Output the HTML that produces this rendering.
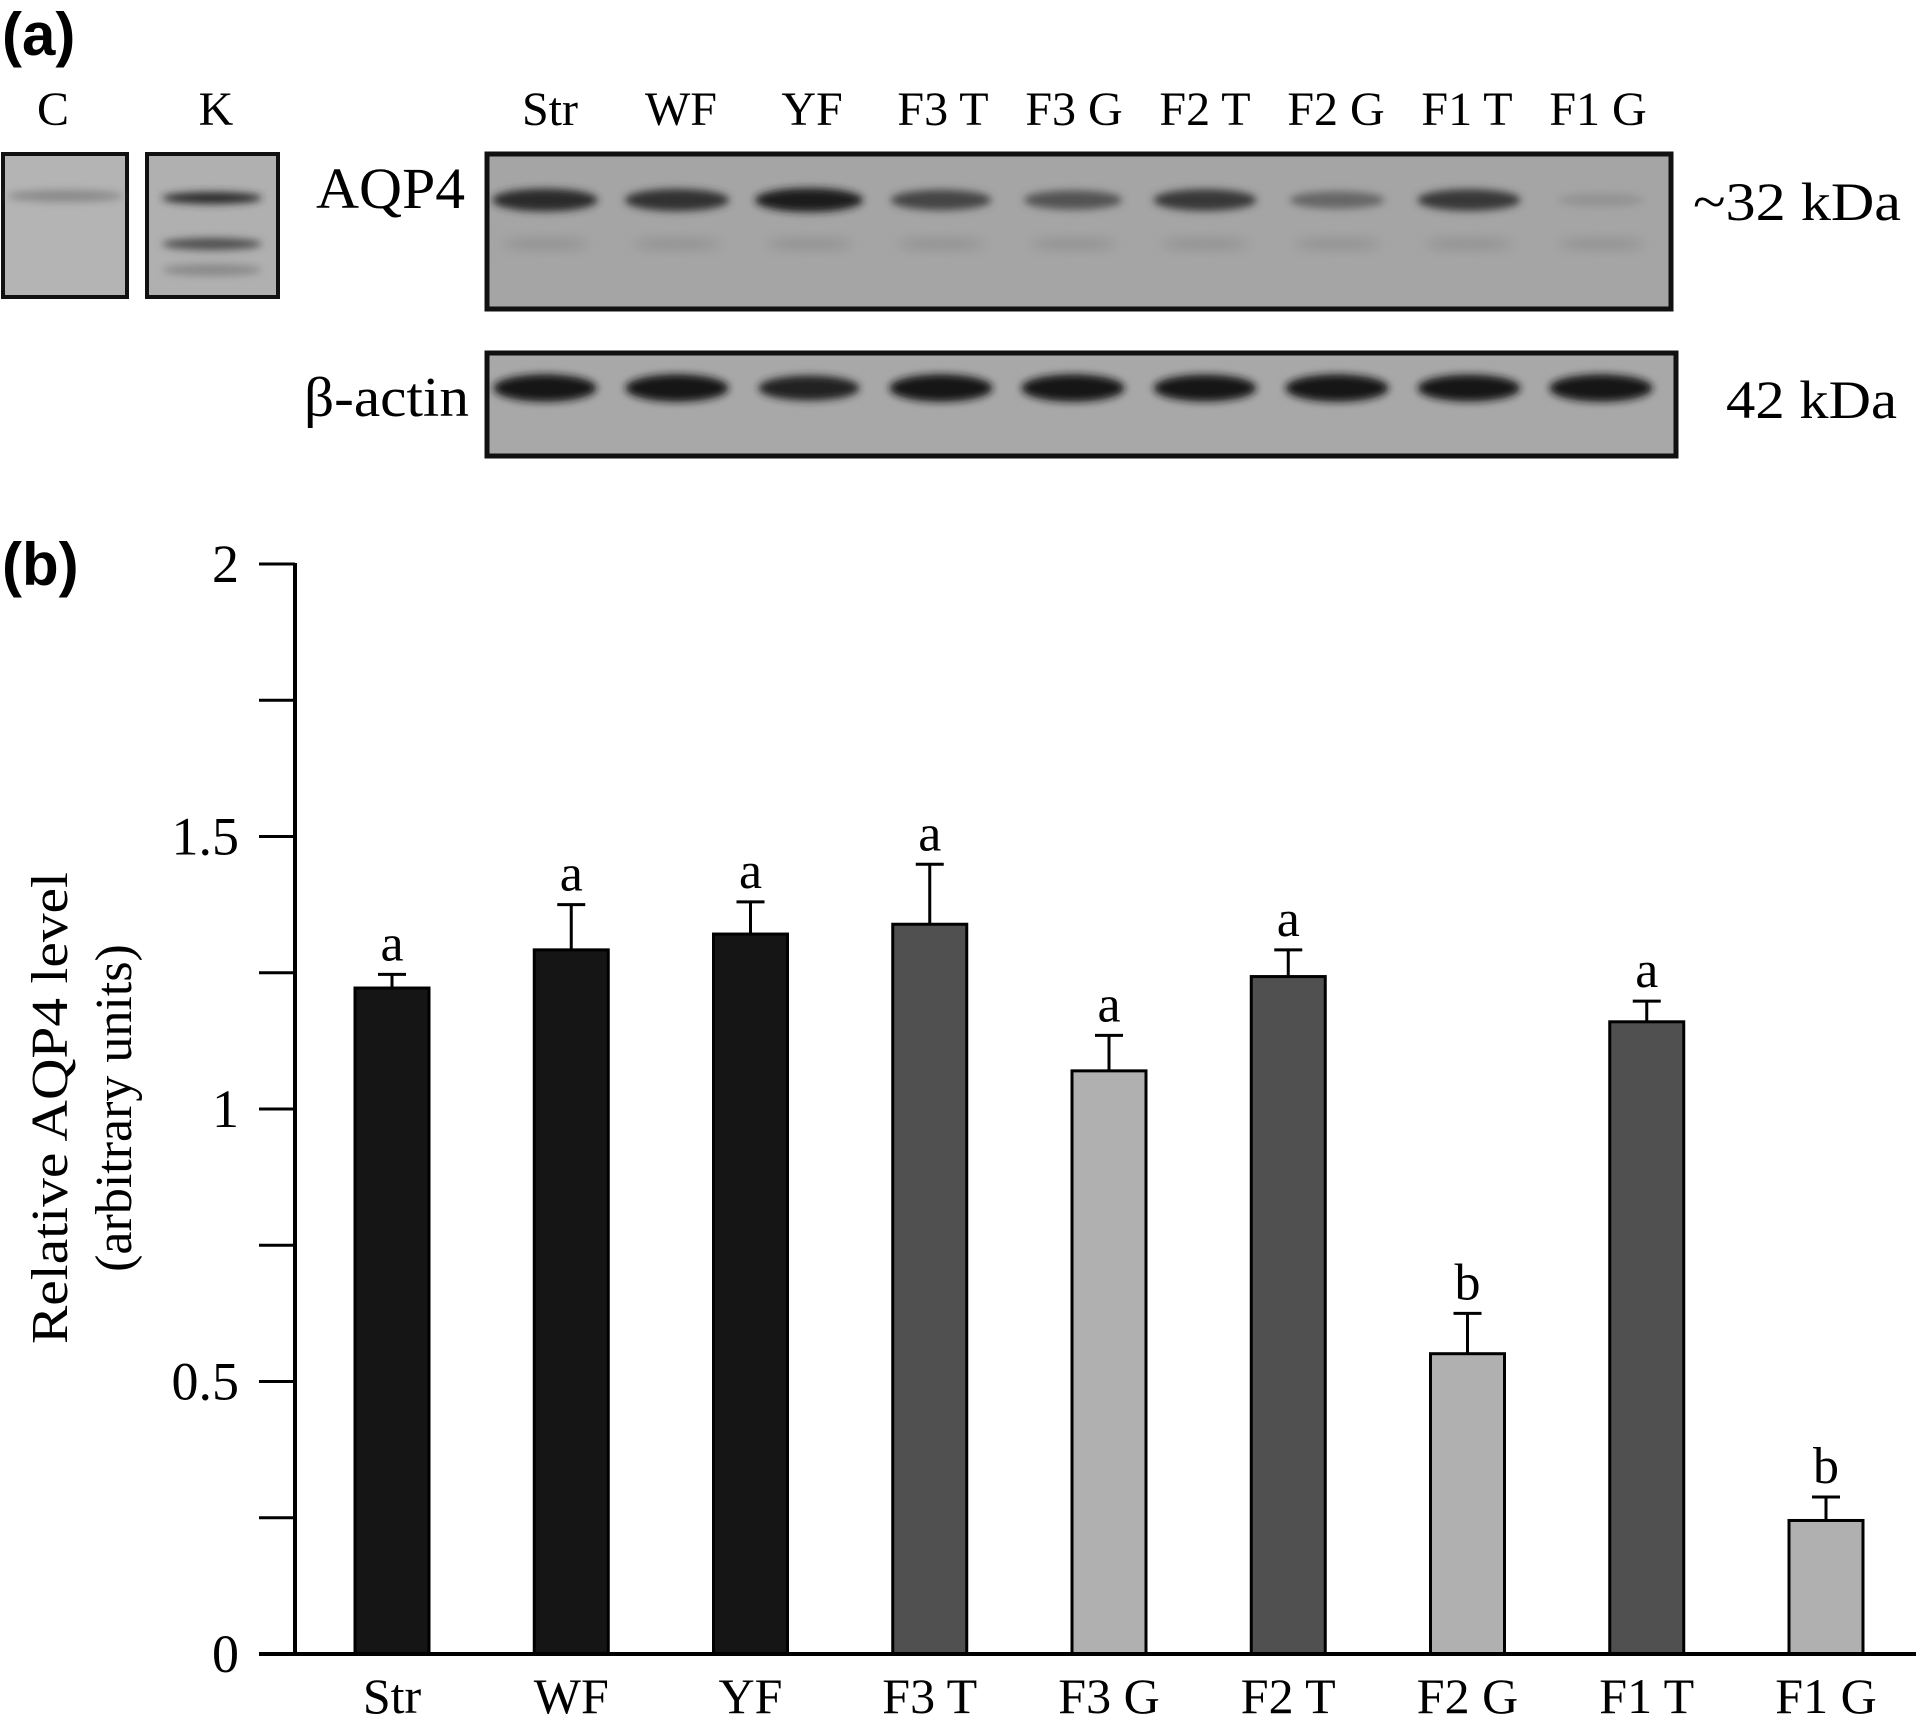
<!DOCTYPE html>
<html><head><meta charset="utf-8"><style>
html,body{margin:0;padding:0;background:#fff;}
svg{display:block;}
text{font-family:"Liberation Serif",serif;fill:#000;}
</style></head><body>
<svg id="fig" width="1919" height="1717" viewBox="0 0 1919 1717" xmlns="http://www.w3.org/2000/svg">
<defs>
<filter id="blur" x="-50%" y="-100%" width="200%" height="300%"><feGaussianBlur stdDeviation="4"/></filter>
<filter id="blur2" x="-50%" y="-100%" width="200%" height="300%"><feGaussianBlur stdDeviation="6"/></filter>
</defs>
<g id="panelA">
<text x="2" y="55" style="font-family:'Liberation Sans',sans-serif;font-weight:bold;font-size:60px">(a)</text>
<text x="53" y="125" font-size="48" text-anchor="middle">C</text>
<text x="216" y="125" font-size="48" text-anchor="middle">K</text>
<rect x="3" y="154" width="124" height="143" fill="#b4b4b4" stroke="#111" stroke-width="4"/>
<rect x="147" y="154" width="131" height="143" fill="#b0b0b0" stroke="#111" stroke-width="4"/>
<rect x="487" y="154" width="1184" height="155" fill="#a5a5a5" stroke="#111" stroke-width="5"/>
<rect x="487" y="353" width="1189" height="103" fill="#a8a8a8" stroke="#111" stroke-width="5"/>
<text x="316" y="208" font-size="58" textLength="149" lengthAdjust="spacingAndGlyphs">AQP4</text>
<text x="1693" y="220" font-size="54" textLength="208" lengthAdjust="spacingAndGlyphs">~32 kDa</text>
<text x="304" y="416" font-size="56" textLength="165" lengthAdjust="spacingAndGlyphs">β-actin</text>
<text x="1726" y="418" font-size="54" textLength="171" lengthAdjust="spacingAndGlyphs">42 kDa</text>
<g id="blotBands"></g>
</g>
<g id="panelB">
<text x="2" y="585" style="font-family:'Liberation Sans',sans-serif;font-weight:bold;font-size:60px">(b)</text>
<text transform="translate(67,1108) rotate(-90)" font-size="52" text-anchor="middle"><tspan x="0" y="0" textLength="472" lengthAdjust="spacingAndGlyphs">Relative AQP4 level</tspan><tspan x="0" y="64">(arbitrary units)</tspan></text>
<g id="chart"></g>
</g>
</svg>
<script>
const lanes = ["Str","WF","YF","F3 T","F3 G","F2 T","F2 G","F1 T","F1 G"];
const aqpBand = [0.9,0.85,1.0,0.7,0.6,0.8,0.45,0.8,0.1];
const actinBand = [0.95,0.95,0.75,0.95,0.95,0.9,0.95,0.9,0.95];
const categories = ["Str","WF","YF","F3 T","F3 G","F2 T","F2 G","F1 T","F1 G"];
const values = [1.222,1.292,1.321,1.339,1.07,1.243,0.551,1.16,0.245];
const errors = [0.025,0.083,0.059,0.11,0.065,0.049,0.074,0.038,0.043];
const groupLetters = ["a","a","a","a","a","a","b","a","b"];
const fillColors = ["#151515","#151515","#151515","#505050","#b0b0b0","#505050","#b0b0b0","#505050","#b0b0b0"];
const yTicks = [0,0.5,1,1.5,2];
const yTickLabels = ["0","0.5","1","1.5","2"];
const yMinor = [0.25,0.75,1.25,1.75];

const NS="http://www.w3.org/2000/svg";
function mk(tag,attrs,parent,txt){const e=document.createElementNS(NS,tag);for(const k in attrs)e.setAttribute(k,attrs[k]);if(txt!==undefined)e.textContent=txt;parent.appendChild(e);return e;}

// blot lanes
const bands=document.getElementById('blotBands');
const laneX=i=>545+i*132;
const labelX=i=>550+i*131;
lanes.forEach((l,i)=>{
  const t=mk('text',{x:labelX(i),y:125,'font-size':48,'text-anchor':'middle'},bands,l);
  
  
  const w=42+aqpBand[i]*12, v=Math.round(30+(1-aqpBand[i])*130);
  const b=mk('ellipse',{cx:laneX(i),cy:200,rx:w,ry:6+aqpBand[i]*6,fill:`rgb(${v},${v},${v})`,filter:'url(#blur)'},bands);
  
  
  const b2=mk('ellipse',{cx:laneX(i),cy:244,rx:44,ry:5,fill:'#8e8e8e',filter:'url(#blur2)'},bands);
  
  
  const av=Math.round(15+(1-actinBand[i])*80);
  const a=mk('ellipse',{cx:laneX(i),cy:388,rx:46+actinBand[i]*6,ry:8+actinBand[i]*6,fill:`rgb(${av},${av},${av})`,filter:'url(#blur)'},bands);
  
  
});
[[65,196,'#8a8a8a'],[212,198,'#2a2a2a'],[212,244,'#505050'],[212,270,'#8a8a8a']].forEach(p=>{
  const e=mk('ellipse',{cx:p[0],cy:p[1],rx:p[0]<100?58:50,ry:6,fill:p[2],filter:'url(#blur)'},bands);
  
  
});

// chart
const g=document.getElementById('chart');
const axisX=295, y0=1654, yTop=564, xEnd=1916;
const yScale=v=>y0-(v/2)*(y0-yTop);
const xScale=i=>392+i*179.25;
const barW=74;
categories.forEach((c,i)=>{
  const cx=xScale(i), top=yScale(values[i]), et=yScale(values[i]+errors[i]);
  const ln=mk('line',{x1:cx,y1:top,x2:cx,y2:et,stroke:'#000','stroke-width':3},g);
  
  
  const cap=mk('line',{x1:cx-14,y1:et,x2:cx+14,y2:et,stroke:'#000','stroke-width':3},g);
  
  
  const r=mk('rect',{x:cx-barW/2,y:top,width:barW,height:y0-top,fill:fillColors[i],stroke:'#000','stroke-width':3},g);
  
  
  const lt=mk('text',{x:cx,y:et-14,'font-size':52,'text-anchor':'middle'},g,groupLetters[i]);
  
  
  const xl=mk('text',{x:cx,y:1713,'font-size':50,'text-anchor':'middle'},g,c);
  
  
});
yTicks.forEach((v,i)=>{
  const t=mk('line',{x1:axisX-36,y1:yScale(v),x2:axisX,y2:yScale(v),stroke:'#000','stroke-width':3},g);
  
  
  const l=mk('text',{x:239,y:yScale(v)+18,'font-size':54,'text-anchor':'end'},g,yTickLabels[i]);
  
  
});
yMinor.forEach(v=>{
  const t=mk('line',{x1:axisX-36,y1:yScale(v),x2:axisX,y2:yScale(v),stroke:'#000','stroke-width':3},g);
  
  
});
const ya=mk('line',{x1:axisX,y1:yTop-1,x2:axisX,y2:y0,stroke:'#000','stroke-width':4},g);


const xa=mk('line',{x1:axisX-36,y1:y0,x2:xEnd,y2:y0,stroke:'#000','stroke-width':4},g);


</script>
</body></html>
